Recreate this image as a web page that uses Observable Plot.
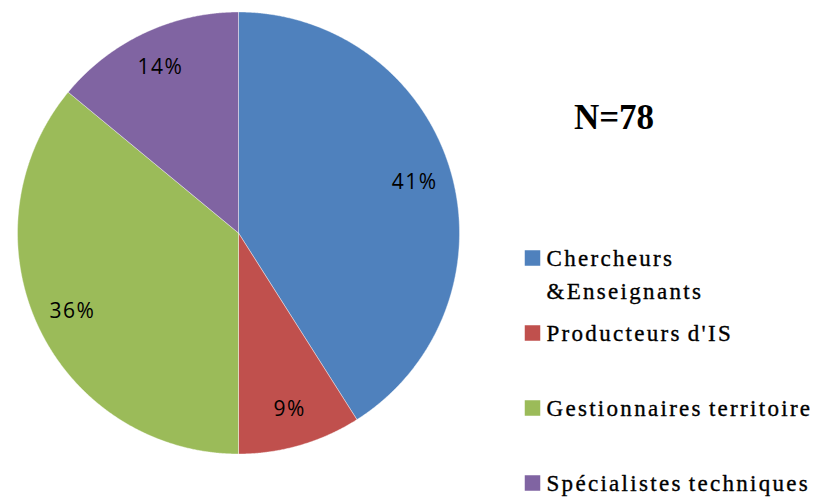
<!DOCTYPE html>
<html>
<head>
<meta charset="utf-8">
<script src="https://cdn.jsdelivr.net/npm/d3@7"></script>
<script src="https://cdn.jsdelivr.net/npm/@observablehq/plot@0.6"></script>
<style>
  html, body { margin: 0; padding: 0; background: #ffffff; }
  #chart { width: 820px; height: 499px; }
</style>
</head>
<body>
<div id="chart"></div>
<script>
// ---- data ----
const categories = ["Chercheurs &Enseignants", "Producteurs d'IS", "Gestionnaires territoire", "Spécialistes techniques"];
const legendLabels = ["Chercheurs\n&Enseignants", "Producteurs d'IS", "Gestionnaires territoire", "Spécialistes techniques"];
const shares = [41, 9, 36, 14];
const colors = ["#4F81BD", "#C0504D", "#9BBB59", "#8064A2"];
const sampleLabel = "N=78";

// ---- layout ----
const W = 820, H = 499;
const CX = 238, CY = 232.5, R = 221;          // pie centre / radius in pixels
const px = (p) => (p - CX) / R;               // pixel -> data x
const py = (p) => (CY - p) / R;               // pixel -> data y
const SERIF = "Liberation Serif, DejaVu Serif";

const rows = categories.map((c, i) => ({cat: c, legend: legendLabels[i], value: shares[i]}));
const arcs = d3.pie().sort(null).value(d => d.value)(rows);

// slice outlines generated from the pie angles
const slicePts = [];
const step = Math.PI / 720;
for (const a of arcs) {
  slicePts.push({cat: a.data.cat, x: 0, y: 0});
  const n = Math.max(2, Math.ceil((a.endAngle - a.startAngle) / step));
  for (let k = 0; k <= n; k++) {
    const t = a.startAngle + (a.endAngle - a.startAngle) * k / n;
    slicePts.push({cat: a.data.cat, x: Math.sin(t), y: Math.cos(t)});
  }
  slicePts.push({cat: a.data.cat, x: 0, y: 0});
}

const labelR = 0.83;
const labels = arcs.map(a => {
  const m = (a.startAngle + a.endAngle) / 2;
  return {cat: a.data.cat, text: a.data.value + "%", x: labelR * Math.sin(m), y: labelR * Math.cos(m)};
});

const legendX = 532, legendY0 = 257.5, legendGap = 75;
const legendRows = rows.map((r, i) => ({cat: r.cat, text: r.legend, x: px(legendX), y: py(legendY0 + i * legendGap)}));

const chart = Plot.plot({
  width: W,
  height: H,
  margin: 0,
  x: {domain: [px(0), px(W)], axis: null},
  y: {domain: [py(H), py(0)], axis: null},
  color: {domain: categories, range: colors},
  marks: [
    Plot.line(slicePts, {x: "x", y: "y", z: "cat", fill: "cat", stroke: "white", strokeWidth: 0.8, strokeOpacity: 0.5, curve: "linear"}),
    Plot.text(labels, {x: "x", y: "y", text: "text", fill: "black", fontSize: 21, fontFamily: "Open Sans", textAnchor: "middle", lineAnchor: "middle"}),
    Plot.text([sampleLabel], {x: px(613.5), y: py(116.8), text: d => d, fill: "black", fontSize: 35, fontWeight: "bold", fontFamily: SERIF, textAnchor: "middle", lineAnchor: "middle"}),
    Plot.dot(legendRows, {x: "x", y: "y", fill: "cat", symbol: "square", r: 8.75, stroke: null}),
    Plot.text(legendRows, {x: "x", y: "y", text: "text", dx: 14, dy: -14.85, fill: "black", stroke: "black", strokeWidth: 0.35, fontSize: 23, fontWeight: "normal", lineHeight: 1.43, fontFamily: SERIF, textAnchor: "start", lineAnchor: "top"})
  ]
});

const textGroups = d3.select(chart).selectAll("g[aria-label='text']").nodes();
// order: percent labels, N label, legend
d3.select(textGroups[0]).style("letter-spacing", "1.5px");
d3.select(textGroups[2]).style("letter-spacing", "2.3px").style("word-spacing", "-2px");
document.getElementById("chart").appendChild(chart);
</script>
</body>
</html>
